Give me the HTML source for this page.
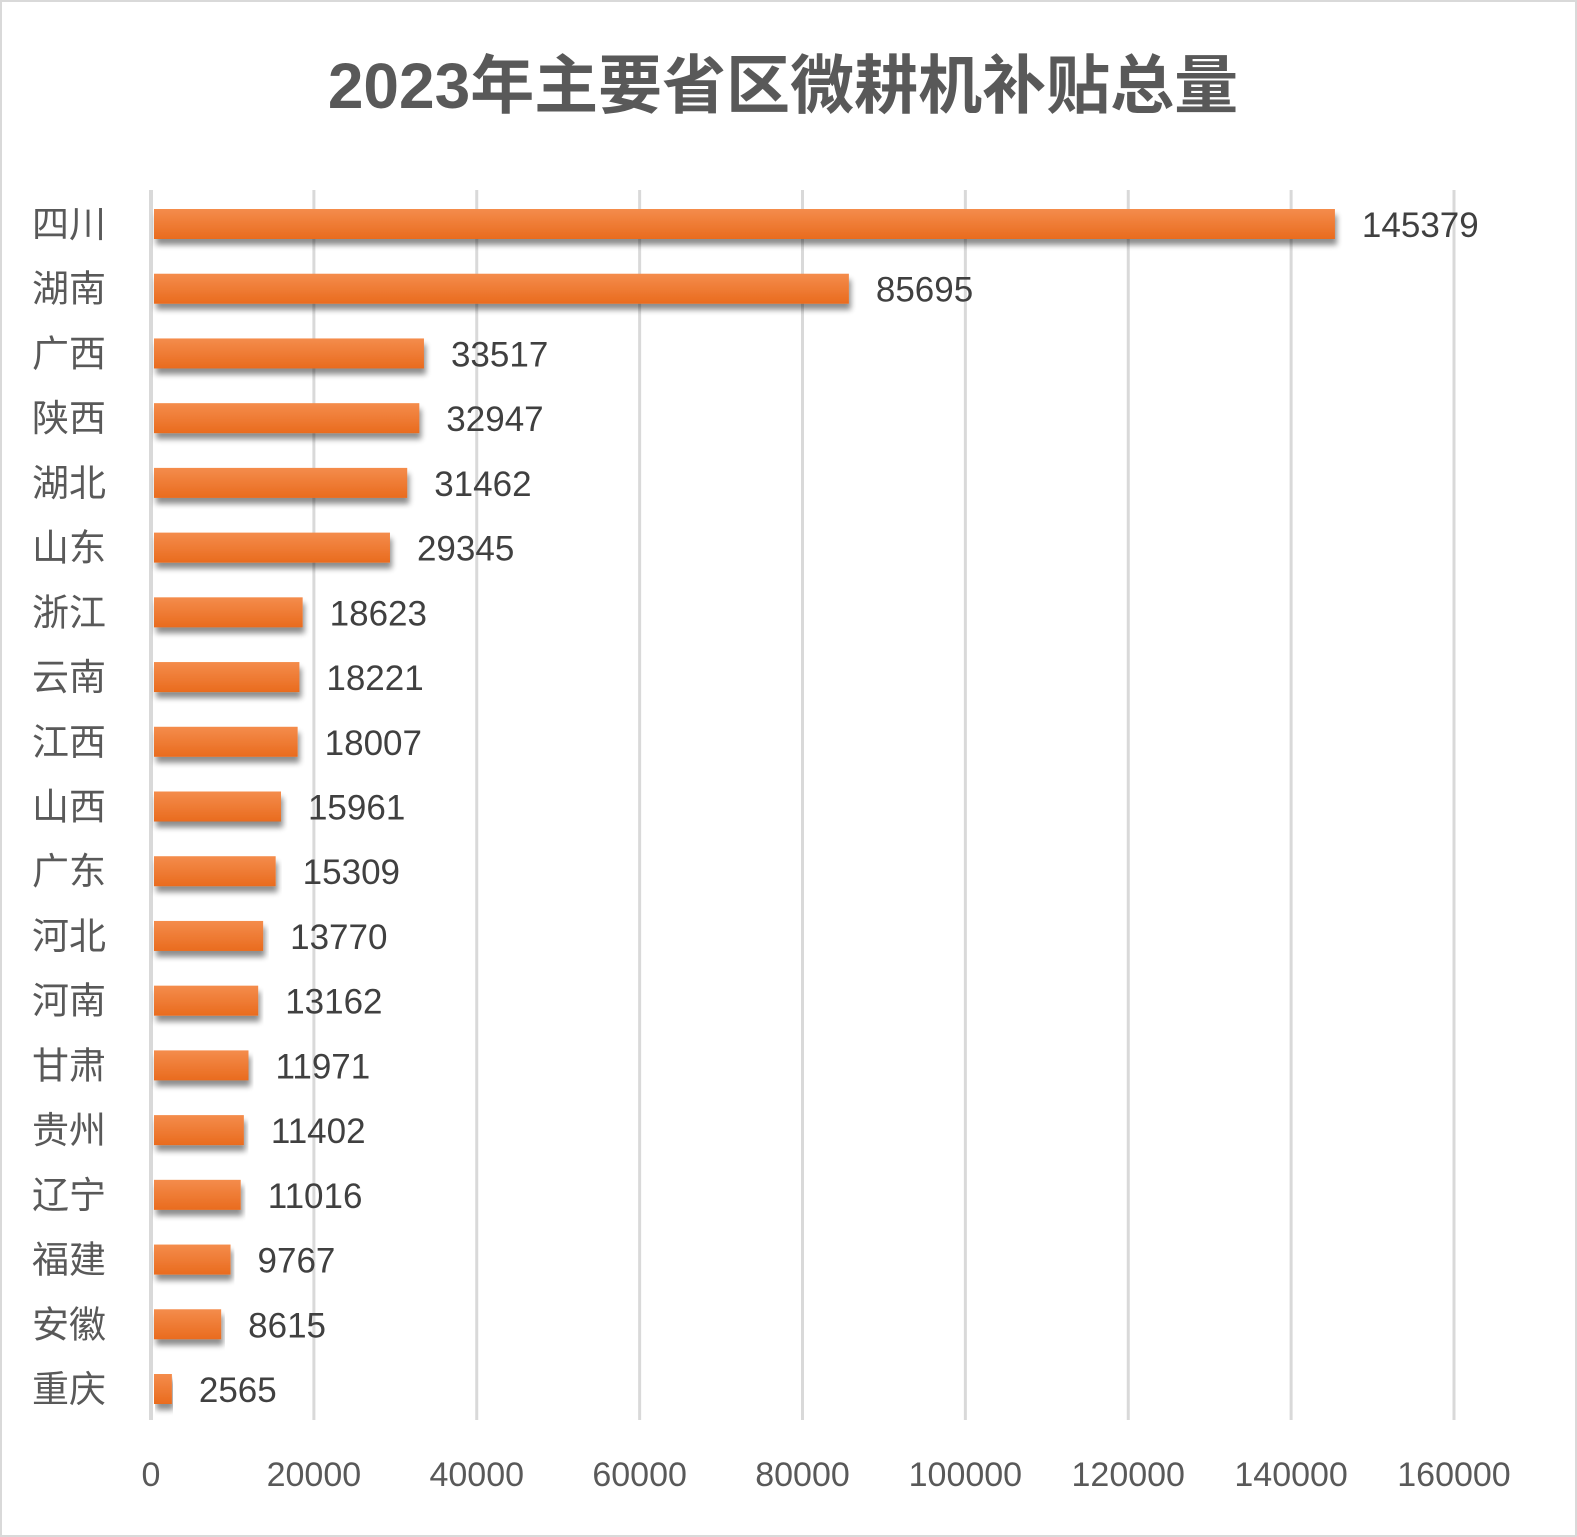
<!DOCTYPE html>
<html><head><meta charset="utf-8">
<style>
html,body{margin:0;padding:0;background:#fff;}
svg{display:block;}
text{font-family:"Liberation Sans","Noto Sans CJK SC",sans-serif;}
</style></head>
<body>
<svg id="chart" width="1577" height="1537" viewBox="0 0 1577 1537" xmlns="http://www.w3.org/2000/svg">
<defs>
<linearGradient id="barGrad" x1="0" y1="0" x2="0" y2="1">
<stop offset="0" stop-color="#f48c4c"/>
<stop offset="1" stop-color="#e96b1e"/>
</linearGradient>
<filter id="sh" x="-5%" y="-30%" width="110%" height="190%">
<feGaussianBlur in="SourceAlpha" stdDeviation="3"/>
<feOffset dx="2" dy="6"/>
<feComponentTransfer><feFuncA type="linear" slope="0.45"/></feComponentTransfer>
<feMerge><feMergeNode/><feMergeNode in="SourceGraphic"/></feMerge>
</filter>
</defs>
<rect x="1" y="1" width="1575" height="1535" fill="#fff" stroke="#d9d9d9" stroke-width="2"/>
<text x="783" y="108" text-anchor="middle" font-size="64" font-weight="bold" fill="#595959">2023年主要省区微耕机补贴总量</text>
<g id="grid"></g>
<g id="bars"></g>
<g id="labels"></g>
</svg>
<script>
const categories=["四川","湖南","广西","陕西","湖北","山东","浙江","云南","江西","山西","广东","河北","河南","甘肃","贵州","辽宁","福建","安徽","重庆"];
const values=[145379,85695,33517,32947,31462,29345,18623,18221,18007,15961,15309,13770,13162,11971,11402,11016,9767,8615,2565];
const ticks=[0,20000,40000,60000,80000,100000,120000,140000,160000];
const x0=151,x1=1454,xMax=160000;
const xs=v=>x0+(v/xMax)*(x1-x0);
const yTop=224,step=(1389-224)/18,barH=30;
const ys=i=>yTop+i*step;
const NS="http://www.w3.org/2000/svg";
const grid=document.getElementById('grid'),bars=document.getElementById('bars'),labels=document.getElementById('labels');
function mk(tag,attrs){const e=document.createElementNS(NS,tag);for(const k in attrs)e.setAttribute(k,attrs[k]);return e;}
ticks.forEach((t,i)=>{
  const x=xs(t);
  if(i>0){const l=mk('line',{x1:x,x2:x,y1:190,y2:1420,stroke:'#d9d9d9','stroke-width':3});
  
  
  grid.appendChild(l);}
  const tx=mk('text',{x:x,y:1486,'text-anchor':'middle','font-size':34,fill:'#595959'});
  tx.textContent=t;
  
  
  labels.appendChild(tx);
});
const ax=mk('line',{x1:x0,x2:x0,y1:190,y2:1420,stroke:'#d9d9d9','stroke-width':4});


grid.appendChild(ax);
categories.forEach((c,i)=>{
  const y=ys(i),v=values[i];
  const r=mk('rect',{x:x0+3,y:y-barH/2,width:Math.max(0,xs(v)-x0-3),height:barH,fill:'url(#barGrad)',filter:'url(#sh)'});
  
  
  bars.appendChild(r);
  const cl=mk('text',{x:32,y:y+13,'font-size':37,fill:'#595959'});
  cl.textContent=c;
  
  
  labels.appendChild(cl);
  const vl=mk('text',{x:xs(v)+27,y:y+13,'font-size':35,fill:'#404040'});
  vl.textContent=v;
  
  
  labels.appendChild(vl);
});
</script>
</body></html>
